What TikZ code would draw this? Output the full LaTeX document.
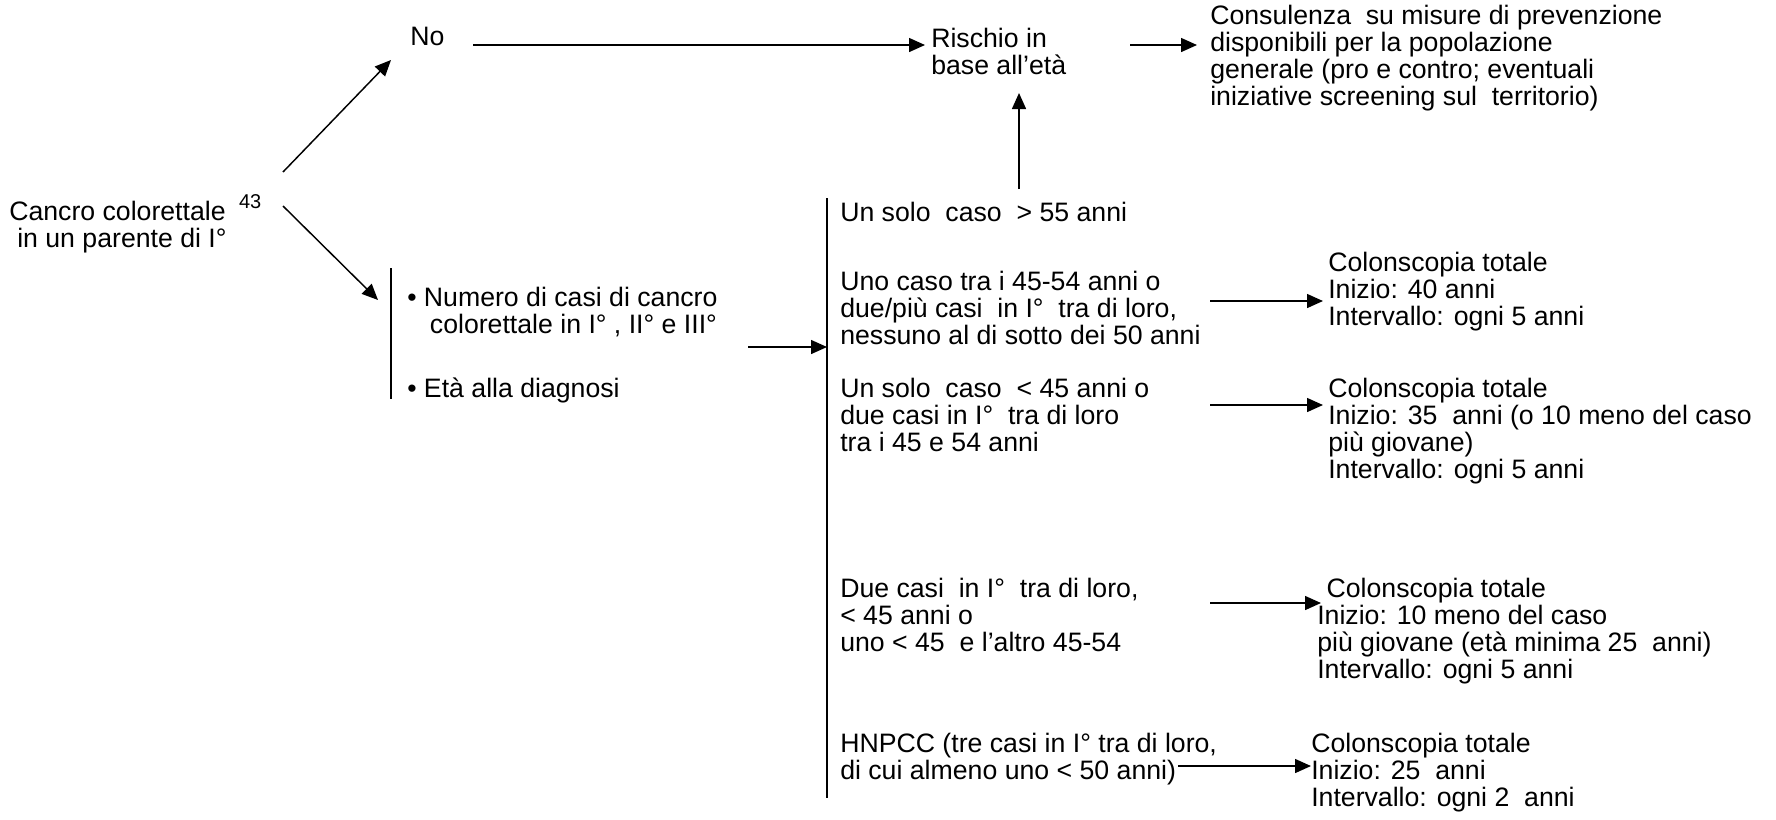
\documentclass[tikz,border=0pt]{standalone}
\usepackage{fontspec}
\setmainfont{Liberation Sans}
\usetikzlibrary{arrows.meta}
% left-aligned block of lines whose baseline is that of its first line
\newcommand{\blocklines}[1]{\begin{tabular}[t]{@{}l@{}}#1\end{tabular}}
\begin{document}
\begin{tikzpicture}[x=0.75pt,y=-0.75pt,
  txt/.style={anchor=base west, inner sep=0pt, font=\fontsize{20}{19.2}\selectfont},
  arr/.style={line width=1.1pt, -{Triangle[length=12pt,width=10.5pt]}},
  bar/.style={line width=1.1pt}]
\useasboundingbox (0,0) rectangle (1776,819);

% text blocks
\node[txt] (cancro) at (9,220) {\blocklines{Cancro colorettale\hspace{0.5em}\raisebox{0.42em}{\fontsize{15}{15}\selectfont 43}\\\hspace*{0.3em}in un parente di I°}};
\node[txt] (no) at (410,45) {No};
\node[txt] (rischio) at (931,47) {\blocklines{Rischio in\\base all’età}};
\node[txt] (consulenza) at (1210,24) {\blocklines{Consulenza\ \ su misure di prevenzione\\disponibili per la popolazione\\generale (pro e contro; eventuali\\iniziative screening sul\ \ territorio)}};
\node[txt] (numero) at (407,306) {\blocklines{• Numero di casi di cancro\\\hspace*{0.85em}colorettale in I° , II° e III°}};
\node[txt] (eta) at (407,397) {• Età alla diagnosi};
\node[txt] (solo55) at (840,221) {Un solo\ \ caso\ \ > 55 anni};
\node[txt] (uno) at (840,290) {\blocklines{Uno caso tra i 45-54 anni o\\due/più casi\ \ in I°\ \ tra di loro,\\nessuno al di sotto dei 50 anni}};
\node[txt] (solo45) at (840,397) {\blocklines{Un solo\ \ caso\ \ < 45 anni o\\due casi in I°\ \ tra di loro\\tra i 45 e 54 anni}};
\node[txt] (due) at (840,597) {\blocklines{Due casi\ \ in I°\ \ tra di loro,\\< 45 anni o\\uno < 45\ \ e l’altro 45-54}};
\node[txt] (hnpcc) at (840,752) {\blocklines{HNPCC (tre casi in I° tra di loro,\\di cui almeno uno < 50 anni)}};
\node[txt] (col1) at (1328,271) {\blocklines{Colonscopia totale\\Inizio: 40 anni\\Intervallo: ogni 5 anni}};
\node[txt] (col2) at (1328,397) {\blocklines{Colonscopia totale\\Inizio: 35\ \ anni (o 10 meno del caso\\più giovane)\\Intervallo: ogni 5 anni}};
\node[txt] (col3) at (1317,597) {\blocklines{\hspace*{0.35em}Colonscopia totale\\Inizio: 10 meno del caso\\più giovane (età minima 25\ \ anni)\\Intervallo: ogni 5 anni}};
\node[txt] (col4) at (1311,752) {\blocklines{Colonscopia totale\\Inizio: 25\ \ anni\\Intervallo: ogni 2\ \ anni}};

% connector end points
\coordinate (upS) at (283,172);  \coordinate (upE) at (391,60);
\coordinate (dnS) at (283,206);  \coordinate (dnE) at (378,300);
\coordinate (noS) at (473,45);   \coordinate (noE) at (925,45);
\coordinate (riS) at (1130,45);  \coordinate (riE) at (1197,45);
\coordinate (vS) at (1019,189);  \coordinate (vE) at (1019,93);
\coordinate (sbT) at (391,268);  \coordinate (sbB) at (391,399);
\coordinate (lbT) at (827,198);  \coordinate (lbB) at (827,798);
\coordinate (nbS) at (748,347);
\coordinate (a1S) at (1210,301); \coordinate (a1E) at (1323,301);
\coordinate (a2S) at (1210,405); \coordinate (a2E) at (1323,405);
\coordinate (a3S) at (1210,603); \coordinate (a3E) at (1321,603);
\coordinate (a4S) at (1178,766); \coordinate (a4E) at (1311,766);

% brackets
\draw[bar] (sbT) -- (sbB);
\draw[bar] (lbT) -- (lbB);

% arrows
\draw[arr] (upS) -- (upE);
\draw[arr] (dnS) -- (dnE);
\draw[arr] (noS) -- (noE);
\draw[arr] (riS) -- (riE);
\draw[arr] (vS) -- (vE);
\draw[arr] (nbS) -- (nbS -| lbT);
\draw[arr] (a1S) -- (a1E);
\draw[arr] (a2S) -- (a2E);
\draw[arr] (a3S) -- (a3E);
\draw[arr] (a4S) -- (a4E);
\end{tikzpicture}
\end{document}
